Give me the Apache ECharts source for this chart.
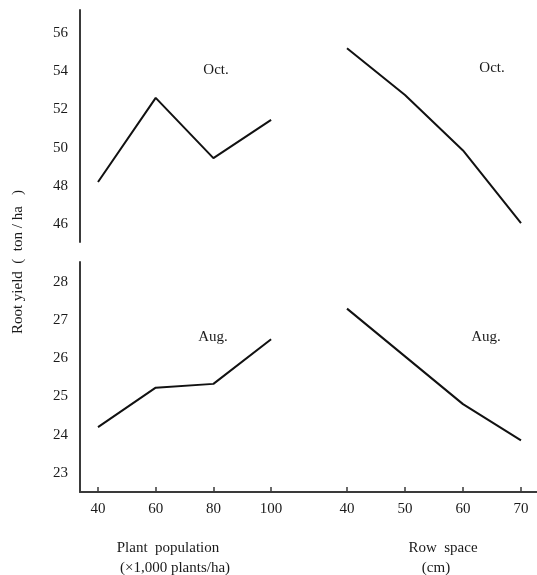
<!DOCTYPE html>
<html>
<head>
<meta charset="utf-8">
<script src="https://cdn.jsdelivr.net/npm/echarts@6/dist/echarts.min.js"></script>
<style>html,body{margin:0;padding:0;background:#fff}#c{width:537px;height:575px}</style>
</head>
<body>
<div id="c"></div>
<script>
// ---- data ----
const populationX = [40, 60, 80, 100];
const rowSpaceX = [40, 50, 60, 70];
const octPopulation = [48.2, 52.6, 49.45, 51.45];
const octRowSpace = [55.2, 52.75, 49.85, 46.05];
const augPopulation = [24.2, 25.23, 25.33, 26.5];
const augRowSpace = [27.3, 26.05, 24.8, 23.85];
const octTicks = [46, 48, 50, 52, 54, 56];
const augTicks = [23, 24, 25, 26, 27, 28];
const popTicks = [40, 60, 80, 100];
const rowTicks = [40, 50, 60, 70];
const yTitle = 'Root yield  (  ton / ha   )';
const xTitleLeft = ['Plant  population', '(\u00d71,000 plants/ha)'];
const xTitleRight = ['Row  space', '(cm)'];
const panelLabels = ['Oct.', 'Aug.'];

const FONT = 'Liberation Serif';
const FS = 15;
const TXT = '#1a1a1a';
const AX = '#3a3a3a';

const pairs = (xs, ys) => xs.map((x, i) => [x, ys[i]]);

const grids = [
  {left: 80, width: 230, top: 10, height: 232},   // top-left
  {left: 310, width: 227, top: 10, height: 232},  // top-right
  {left: 80, width: 230, top: 262, height: 230},  // bottom-left
  {left: 310, width: 227, top: 262, height: 230}  // bottom-right
];

function xAx(gi, min, max, ticks, show) {
  return {
    type: 'value', gridIndex: gi, min: min, max: max, show: true,
    axisLine: {show: show, lineStyle: {color: AX, width: 2}},
    axisTick: {show: show, inside: true, length: 5, customValues: ticks, lineStyle: {color: AX, width: 1.5}},
    axisLabel: {show: show, customValues: ticks, margin: 10, fontFamily: FONT, fontSize: FS, color: TXT},
    splitLine: {show: false}
  };
}
function yAx(gi, min, max, ticks, show) {
  return {
    type: 'value', gridIndex: gi, min: min, max: max,
    axisLine: {show: show, onZero: false, lineStyle: {color: AX, width: 2}},
    axisTick: {show: false},
    axisLabel: {show: show, customValues: ticks, margin: 12, fontFamily: FONT, fontSize: FS, color: TXT},
    splitLine: {show: false}
  };
}

const lineSeries = (gi, data) => ({
  type: 'line', xAxisIndex: gi, yAxisIndex: gi, data: data,
  symbol: 'none', lineStyle: {color: '#111', width: 2}, silent: true, animation: false
});

const txt = (x, y, t, extra) => Object.assign({
  type: 'text', x: x, y: y,
  style: {text: t, fontFamily: FONT, fontSize: FS, fill: TXT, align: 'center', verticalAlign: 'middle'}
}, extra || {});

const chart = echarts.init(document.getElementById('c'), null, {renderer: 'canvas'});
chart.setOption({
  animation: false,
  backgroundColor: '#fff',
  grid: grids,
  xAxis: [
    xAx(0, 33.76, 113.48, popTicks, false),
    xAx(1, 33.62, 72.76, rowTicks, false),
    xAx(2, 33.76, 113.48, popTicks, true),
    xAx(3, 33.62, 72.76, rowTicks, true)
  ],
  yAxis: [
    yAx(0, 45.06, 57.2, octTicks, true),
    yAx(1, 45.06, 57.2, octTicks, false),
    yAx(2, 22.5, 28.52, augTicks, true),
    yAx(3, 22.5, 28.52, augTicks, false)
  ],
  series: [
    lineSeries(0, pairs(populationX, octPopulation)),
    lineSeries(1, pairs(rowSpaceX, octRowSpace)),
    lineSeries(2, pairs(populationX, augPopulation)),
    lineSeries(3, pairs(rowSpaceX, augRowSpace))
  ],
  graphic: [
    txt(216, 70, panelLabels[0]),
    txt(492, 68, panelLabels[0]),
    txt(213, 337, panelLabels[1]),
    txt(486, 337, panelLabels[1]),
    txt(18, 262, yTitle, {rotation: Math.PI / 2}),
    txt(168, 548, xTitleLeft[0]),
    txt(175, 568, xTitleLeft[1]),
    txt(443, 548, xTitleRight[0]),
    txt(436, 568, xTitleRight[1])
  ]
});
</script>
</body>
</html>
